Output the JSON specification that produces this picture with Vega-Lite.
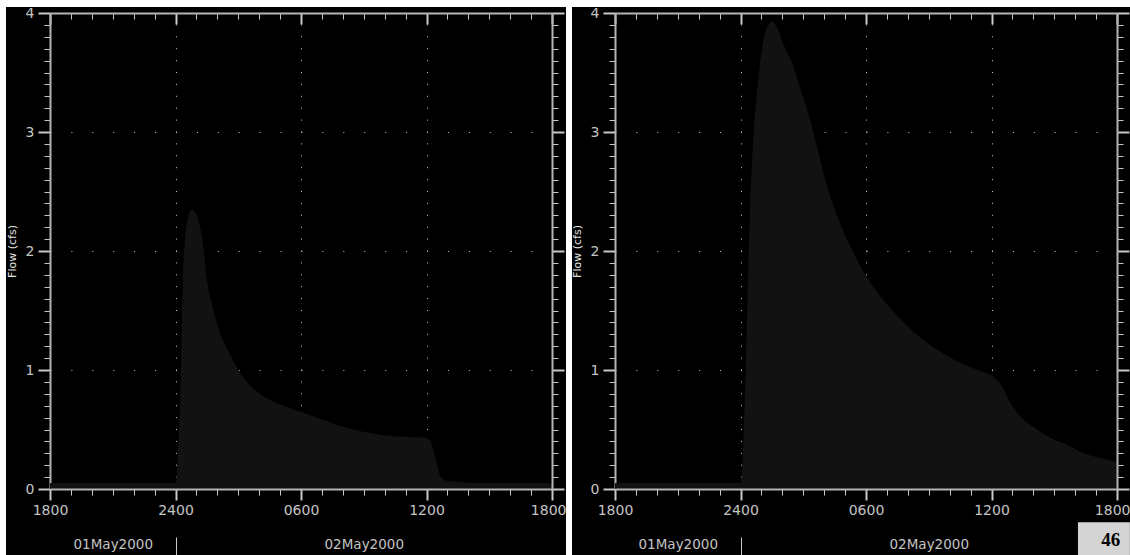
{
 "$schema": "https://vega.github.io/schema/vega-lite/v6.json",
 "background": "white",
 "padding": {"left": 6, "top": 6, "right": 0, "bottom": 0},
 "config": {
  "view": {"stroke": null, "fill": "black"},
  "font": "DejaVu Sans",
  "axis": {"domainColor": "#b4b4b4", "domainWidth": 2, "tickColor": "#c8c8c8", "labelColor": "#c4c4c4", "labelFont": "DejaVu Sans", "labelFontSize": 14, "labelFlush": false, "labelOverlap": false, "gridColor": "#c8c8c8", "gridWidth": 1, "titleColor": "#e0e0e0", "titleFont": "DejaVu Sans", "titleFontWeight": "normal", "titleFontSize": 11, "grid": false}
 },
 "datasets": {
  "left": [
   {"time": "2000-05-01T18:00", "flow": 0.05},
   {"time": "2000-05-01T21:00", "flow": 0.05},
   {"time": "2000-05-02T00:00", "flow": 0.05},
   {"time": "2000-05-02T00:03", "flow": 0.10},
   {"time": "2000-05-02T00:08", "flow": 0.39},
   {"time": "2000-05-02T00:13", "flow": 0.69},
   {"time": "2000-05-02T00:18", "flow": 1.34},
   {"time": "2000-05-02T00:22", "flow": 1.82},
   {"time": "2000-05-02T00:27", "flow": 2.09},
   {"time": "2000-05-02T00:32", "flow": 2.22},
   {"time": "2000-05-02T00:37", "flow": 2.30},
   {"time": "2000-05-02T00:43", "flow": 2.34},
   {"time": "2000-05-02T00:49", "flow": 2.345},
   {"time": "2000-05-02T00:55", "flow": 2.33},
   {"time": "2000-05-02T01:01", "flow": 2.30},
   {"time": "2000-05-02T01:07", "flow": 2.24},
   {"time": "2000-05-02T01:12", "flow": 2.18},
   {"time": "2000-05-02T01:20", "flow": 2.03},
   {"time": "2000-05-02T01:29", "flow": 1.78},
   {"time": "2000-05-02T01:44", "flow": 1.56},
   {"time": "2000-05-02T02:08", "flow": 1.31},
   {"time": "2000-05-02T02:36", "flow": 1.13},
   {"time": "2000-05-02T03:14", "flow": 0.94},
   {"time": "2000-05-02T03:53", "flow": 0.82},
   {"time": "2000-05-02T04:31", "flow": 0.75},
   {"time": "2000-05-02T05:19", "flow": 0.69},
   {"time": "2000-05-02T06:07", "flow": 0.64},
   {"time": "2000-05-02T06:54", "flow": 0.59},
   {"time": "2000-05-02T07:42", "flow": 0.54},
   {"time": "2000-05-02T08:30", "flow": 0.50},
   {"time": "2000-05-02T09:18", "flow": 0.47},
   {"time": "2000-05-02T10:06", "flow": 0.45},
   {"time": "2000-05-02T10:53", "flow": 0.44},
   {"time": "2000-05-02T11:56", "flow": 0.43},
   {"time": "2000-05-02T12:10", "flow": 0.41},
   {"time": "2000-05-02T12:19", "flow": 0.33},
   {"time": "2000-05-02T12:29", "flow": 0.22},
   {"time": "2000-05-02T12:38", "flow": 0.12},
   {"time": "2000-05-02T12:48", "flow": 0.08},
   {"time": "2000-05-02T12:58", "flow": 0.07},
   {"time": "2000-05-02T13:26", "flow": 0.06},
   {"time": "2000-05-02T14:05", "flow": 0.05},
   {"time": "2000-05-02T17:34", "flow": 0.05},
   {"time": "2000-05-02T18:00", "flow": 0.04}
  ],
  "right": [
   {"time": "2000-05-01T18:00", "flow": 0.05},
   {"time": "2000-05-01T21:00", "flow": 0.05},
   {"time": "2000-05-02T00:00", "flow": 0.05},
   {"time": "2000-05-02T00:04", "flow": 0.12},
   {"time": "2000-05-02T00:08", "flow": 0.39},
   {"time": "2000-05-02T00:13", "flow": 0.81},
   {"time": "2000-05-02T00:18", "flow": 1.36},
   {"time": "2000-05-02T00:23", "flow": 1.92},
   {"time": "2000-05-02T00:28", "flow": 2.40},
   {"time": "2000-05-02T00:37", "flow": 2.96},
   {"time": "2000-05-02T00:47", "flow": 3.33},
   {"time": "2000-05-02T00:56", "flow": 3.58},
   {"time": "2000-05-02T01:06", "flow": 3.77},
   {"time": "2000-05-02T01:20", "flow": 3.90},
   {"time": "2000-05-02T01:33", "flow": 3.93},
   {"time": "2000-05-02T01:44", "flow": 3.88},
   {"time": "2000-05-02T02:03", "flow": 3.74},
   {"time": "2000-05-02T02:28", "flow": 3.58},
   {"time": "2000-05-02T02:51", "flow": 3.37},
   {"time": "2000-05-02T03:20", "flow": 3.10},
   {"time": "2000-05-02T03:44", "flow": 2.82},
   {"time": "2000-05-02T04:17", "flow": 2.46},
   {"time": "2000-05-02T04:46", "flow": 2.23},
   {"time": "2000-05-02T05:15", "flow": 2.04},
   {"time": "2000-05-02T05:58", "flow": 1.80},
   {"time": "2000-05-02T06:41", "flow": 1.62},
   {"time": "2000-05-02T07:19", "flow": 1.49},
   {"time": "2000-05-02T08:17", "flow": 1.32},
   {"time": "2000-05-02T09:24", "flow": 1.17},
   {"time": "2000-05-02T10:31", "flow": 1.06},
   {"time": "2000-05-02T11:19", "flow": 1.00},
   {"time": "2000-05-02T12:07", "flow": 0.94},
   {"time": "2000-05-02T12:31", "flow": 0.86},
   {"time": "2000-05-02T12:55", "flow": 0.72},
   {"time": "2000-05-02T13:23", "flow": 0.61},
   {"time": "2000-05-02T14:01", "flow": 0.52},
   {"time": "2000-05-02T14:49", "flow": 0.43},
   {"time": "2000-05-02T15:37", "flow": 0.37},
   {"time": "2000-05-02T16:25", "flow": 0.30},
   {"time": "2000-05-02T17:13", "flow": 0.26},
   {"time": "2000-05-02T18:00", "flow": 0.23}
  ]
 },
 "spacing": 6,
 "bounds": "flush",
 "hconcat": [
  {
   "width": 560,
   "height": 548,
   "data": {"name": "left"},
   "resolve": {"axis": {"x": "independent", "y": "independent"}},
   "layer": [
    {
     "mark": {"type": "area", "color": "#121212", "interpolate": "monotone"},
     "encoding": {
      "x": {"field": "time", "type": "temporal",
       "scale": {"domain": [{"year":2000,"month":5,"date":1,"hours":18},{"year":2000,"month":5,"date":2,"hours":18}], "range": [44, 546], "nice": false},
       "axis": {"orient": "top", "offset": -6, "labels": false, "title": null, "labelFlush": false,
        "values": [{"year":2000,"month":5,"date":1,"hours":18},{"year":2000,"month":5,"date":1,"hours":19},{"year":2000,"month":5,"date":1,"hours":20},{"year":2000,"month":5,"date":1,"hours":21},{"year":2000,"month":5,"date":1,"hours":22},{"year":2000,"month":5,"date":1,"hours":23},{"year":2000,"month":5,"date":2,"hours":0},{"year":2000,"month":5,"date":2,"hours":1},{"year":2000,"month":5,"date":2,"hours":2},{"year":2000,"month":5,"date":2,"hours":3},{"year":2000,"month":5,"date":2,"hours":4},{"year":2000,"month":5,"date":2,"hours":5},{"year":2000,"month":5,"date":2,"hours":6},{"year":2000,"month":5,"date":2,"hours":7},{"year":2000,"month":5,"date":2,"hours":8},{"year":2000,"month":5,"date":2,"hours":9},{"year":2000,"month":5,"date":2,"hours":10},{"year":2000,"month":5,"date":2,"hours":11},{"year":2000,"month":5,"date":2,"hours":12},{"year":2000,"month":5,"date":2,"hours":13},{"year":2000,"month":5,"date":2,"hours":14},{"year":2000,"month":5,"date":2,"hours":15},{"year":2000,"month":5,"date":2,"hours":16},{"year":2000,"month":5,"date":2,"hours":17},{"year":2000,"month":5,"date":2,"hours":18}],
        "tickSize": {"condition": {"test": "hours(datum.value) % 6 == 0", "value": -11}, "value": -6},
        "tickWidth": {"condition": {"test": "hours(datum.value) % 6 == 0", "value": 2}, "value": 1},
        "grid": true, "gridDash": [1, 10.9],
        "gridOpacity": {"condition": {"test": "hours(datum.value) % 6 == 0", "value": 1}, "value": 0}}},
      "y": {"field": "flow", "type": "quantitative",
       "scale": {"domain": [0, 4], "range": [482, 6], "nice": false, "zero": false},
       "axis": {"orient": "left", "offset": -44, "title": "Flow (cfs)", "titlePadding": 8,
        "values": [0,0.1,0.2,0.3,0.4,0.5,0.6,0.7,0.8,0.9,1,1.1,1.2,1.3,1.4,1.5,1.6,1.7,1.8,1.9,2,2.1,2.2,2.3,2.4,2.5,2.6,2.7,2.8,2.9,3,3.1,3.2,3.3,3.4,3.5,3.6,3.7,3.8,3.9,4],
        "labelExpr": "abs(datum.value - round(datum.value)) < 0.001 ? format(datum.value, 'd') : ''",
        "labelPadding": 4,
        "tickSize": {"condition": {"test": "abs(datum.value - round(datum.value)) < 0.001", "value": 12}, "value": 6},
        "tickWidth": {"condition": {"test": "abs(datum.value - round(datum.value)) < 0.001", "value": 2}, "value": 1},
        "grid": true, "gridDash": [1, 19.917],
        "gridOpacity": {"condition": {"test": "abs(datum.value - round(datum.value)) < 0.001", "value": 1}, "value": 0}}}
     }
    },
    {
     "mark": {"type": "line", "opacity": 0},
     "encoding": {
      "x": {"field": "time", "type": "temporal",
       "axis": {"orient": "bottom", "offset": -66, "zindex": 1, "title": null, "labelFlush": false, "labelOverlap": false,
        "values": [{"year":2000,"month":5,"date":1,"hours":18},{"year":2000,"month":5,"date":1,"hours":19},{"year":2000,"month":5,"date":1,"hours":20},{"year":2000,"month":5,"date":1,"hours":21},{"year":2000,"month":5,"date":1,"hours":22},{"year":2000,"month":5,"date":1,"hours":23},{"year":2000,"month":5,"date":2,"hours":0},{"year":2000,"month":5,"date":2,"hours":1},{"year":2000,"month":5,"date":2,"hours":2},{"year":2000,"month":5,"date":2,"hours":3},{"year":2000,"month":5,"date":2,"hours":4},{"year":2000,"month":5,"date":2,"hours":5},{"year":2000,"month":5,"date":2,"hours":6},{"year":2000,"month":5,"date":2,"hours":7},{"year":2000,"month":5,"date":2,"hours":8},{"year":2000,"month":5,"date":2,"hours":9},{"year":2000,"month":5,"date":2,"hours":10},{"year":2000,"month":5,"date":2,"hours":11},{"year":2000,"month":5,"date":2,"hours":12},{"year":2000,"month":5,"date":2,"hours":13},{"year":2000,"month":5,"date":2,"hours":14},{"year":2000,"month":5,"date":2,"hours":15},{"year":2000,"month":5,"date":2,"hours":16},{"year":2000,"month":5,"date":2,"hours":17},{"year":2000,"month":5,"date":2,"hours":18}],
        "labelExpr": "hours(datum.value) % 6 != 0 ? '' : (hours(datum.value) == 0 ? '2400' : timeFormat(datum.value, '%H%M'))",
        "labelPadding": 3,
        "labelAlign": {"condition": {"test": "+datum.value > +datetime(2000, 4, 2, 17)", "value": "right"}, "value": "center"},
        "labelOffset": {"condition": {"test": "+datum.value > +datetime(2000, 4, 2, 17)", "value": 14}, "value": 0},
        "tickSize": {"condition": {"test": "hours(datum.value) % 6 == 0", "value": 11}, "value": 6},
        "tickWidth": {"condition": {"test": "hours(datum.value) % 6 == 0", "value": 2}, "value": 1}}},
      "y": {"field": "flow", "type": "quantitative",
       "axis": {"orient": "right", "offset": -14, "zindex": 1, "labels": false, "title": null,
        "values": [0,0.1,0.2,0.3,0.4,0.5,0.6,0.7,0.8,0.9,1,1.1,1.2,1.3,1.4,1.5,1.6,1.7,1.8,1.9,2,2.1,2.2,2.3,2.4,2.5,2.6,2.7,2.8,2.9,3,3.1,3.2,3.3,3.4,3.5,3.6,3.7,3.8,3.9,4],
        "tickSize": {"condition": {"test": "abs(datum.value - round(datum.value)) < 0.001", "value": 12}, "value": 6},
        "tickWidth": {"condition": {"test": "abs(datum.value - round(datum.value)) < 0.001", "value": 2}, "value": 1}}}
     }
    },
    {
     "mark": {"type": "line", "opacity": 0},
     "encoding": {
      "x": {"field": "time", "type": "temporal",
       "axis": {"orient": "bottom", "offset": -18, "zindex": 1, "title": null, "domain": false, "labelFlush": false, "labelOverlap": false,
        "values": [{"year":2000,"month":5,"date":1,"hours":21},{"year":2000,"month":5,"date":2,"hours":0},{"year":2000,"month":5,"date":2,"hours":9}],
        "tickSize": 18, "tickWidth": 1,
        "tickOpacity": {"condition": {"test": "hours(datum.value) == 0", "value": 1}, "value": 0},
        "labelExpr": "hours(datum.value) == 0 ? '' : timeFormat(datum.value, '%d%b%Y')",
        "labelBaseline": "middle", "labelPadding": -11, "labelFontSize": 13.5}},
      "y": {"field": "flow", "type": "quantitative", "axis": null}
     }
    }
   ]
  },
  {
   "width": 558,
   "height": 548,
   "data": {"name": "right"},
   "resolve": {"axis": {"x": "independent", "y": "independent"}},
   "layer": [
    {
     "mark": {"type": "area", "color": "#121212", "interpolate": "monotone"},
     "encoding": {
      "x": {"field": "time", "type": "temporal",
       "scale": {"domain": [{"year":2000,"month":5,"date":1,"hours":18},{"year":2000,"month":5,"date":2,"hours":18}], "range": [43, 545], "nice": false},
       "axis": {"orient": "top", "offset": -6, "labels": false, "title": null, "labelFlush": false,
        "values": [{"year":2000,"month":5,"date":1,"hours":18},{"year":2000,"month":5,"date":1,"hours":19},{"year":2000,"month":5,"date":1,"hours":20},{"year":2000,"month":5,"date":1,"hours":21},{"year":2000,"month":5,"date":1,"hours":22},{"year":2000,"month":5,"date":1,"hours":23},{"year":2000,"month":5,"date":2,"hours":0},{"year":2000,"month":5,"date":2,"hours":1},{"year":2000,"month":5,"date":2,"hours":2},{"year":2000,"month":5,"date":2,"hours":3},{"year":2000,"month":5,"date":2,"hours":4},{"year":2000,"month":5,"date":2,"hours":5},{"year":2000,"month":5,"date":2,"hours":6},{"year":2000,"month":5,"date":2,"hours":7},{"year":2000,"month":5,"date":2,"hours":8},{"year":2000,"month":5,"date":2,"hours":9},{"year":2000,"month":5,"date":2,"hours":10},{"year":2000,"month":5,"date":2,"hours":11},{"year":2000,"month":5,"date":2,"hours":12},{"year":2000,"month":5,"date":2,"hours":13},{"year":2000,"month":5,"date":2,"hours":14},{"year":2000,"month":5,"date":2,"hours":15},{"year":2000,"month":5,"date":2,"hours":16},{"year":2000,"month":5,"date":2,"hours":17},{"year":2000,"month":5,"date":2,"hours":18}],
        "tickSize": {"condition": {"test": "hours(datum.value) % 6 == 0", "value": -11}, "value": -6},
        "tickWidth": {"condition": {"test": "hours(datum.value) % 6 == 0", "value": 2}, "value": 1},
        "grid": true, "gridDash": [1, 10.9],
        "gridOpacity": {"condition": {"test": "hours(datum.value) % 6 == 0", "value": 1}, "value": 0}}},
      "y": {"field": "flow", "type": "quantitative",
       "scale": {"domain": [0, 4], "range": [482, 6], "nice": false, "zero": false},
       "axis": {"orient": "left", "offset": -43, "title": "Flow (cfs)", "titlePadding": 8,
        "values": [0,0.1,0.2,0.3,0.4,0.5,0.6,0.7,0.8,0.9,1,1.1,1.2,1.3,1.4,1.5,1.6,1.7,1.8,1.9,2,2.1,2.2,2.3,2.4,2.5,2.6,2.7,2.8,2.9,3,3.1,3.2,3.3,3.4,3.5,3.6,3.7,3.8,3.9,4],
        "labelExpr": "abs(datum.value - round(datum.value)) < 0.001 ? format(datum.value, 'd') : ''",
        "labelPadding": 4,
        "tickSize": {"condition": {"test": "abs(datum.value - round(datum.value)) < 0.001", "value": 12}, "value": 6},
        "tickWidth": {"condition": {"test": "abs(datum.value - round(datum.value)) < 0.001", "value": 2}, "value": 1},
        "grid": true, "gridDash": [1, 19.917],
        "gridOpacity": {"condition": {"test": "abs(datum.value - round(datum.value)) < 0.001", "value": 1}, "value": 0}}}
     }
    },
    {
     "mark": {"type": "line", "opacity": 0},
     "encoding": {
      "x": {"field": "time", "type": "temporal",
       "axis": {"orient": "bottom", "offset": -66, "zindex": 1, "title": null, "labelFlush": false, "labelOverlap": false,
        "values": [{"year":2000,"month":5,"date":1,"hours":18},{"year":2000,"month":5,"date":1,"hours":19},{"year":2000,"month":5,"date":1,"hours":20},{"year":2000,"month":5,"date":1,"hours":21},{"year":2000,"month":5,"date":1,"hours":22},{"year":2000,"month":5,"date":1,"hours":23},{"year":2000,"month":5,"date":2,"hours":0},{"year":2000,"month":5,"date":2,"hours":1},{"year":2000,"month":5,"date":2,"hours":2},{"year":2000,"month":5,"date":2,"hours":3},{"year":2000,"month":5,"date":2,"hours":4},{"year":2000,"month":5,"date":2,"hours":5},{"year":2000,"month":5,"date":2,"hours":6},{"year":2000,"month":5,"date":2,"hours":7},{"year":2000,"month":5,"date":2,"hours":8},{"year":2000,"month":5,"date":2,"hours":9},{"year":2000,"month":5,"date":2,"hours":10},{"year":2000,"month":5,"date":2,"hours":11},{"year":2000,"month":5,"date":2,"hours":12},{"year":2000,"month":5,"date":2,"hours":13},{"year":2000,"month":5,"date":2,"hours":14},{"year":2000,"month":5,"date":2,"hours":15},{"year":2000,"month":5,"date":2,"hours":16},{"year":2000,"month":5,"date":2,"hours":17},{"year":2000,"month":5,"date":2,"hours":18}],
        "labelExpr": "hours(datum.value) % 6 != 0 ? '' : (hours(datum.value) == 0 ? '2400' : timeFormat(datum.value, '%H%M'))",
        "labelPadding": 3,
        "labelAlign": {"condition": {"test": "+datum.value > +datetime(2000, 4, 2, 17)", "value": "right"}, "value": "center"},
        "labelOffset": {"condition": {"test": "+datum.value > +datetime(2000, 4, 2, 17)", "value": 13}, "value": 0},
        "tickSize": {"condition": {"test": "hours(datum.value) % 6 == 0", "value": 11}, "value": 6},
        "tickWidth": {"condition": {"test": "hours(datum.value) % 6 == 0", "value": 2}, "value": 1}}},
      "y": {"field": "flow", "type": "quantitative",
       "axis": {"orient": "right", "offset": -13, "zindex": 1, "labels": false, "title": null,
        "values": [0,0.1,0.2,0.3,0.4,0.5,0.6,0.7,0.8,0.9,1,1.1,1.2,1.3,1.4,1.5,1.6,1.7,1.8,1.9,2,2.1,2.2,2.3,2.4,2.5,2.6,2.7,2.8,2.9,3,3.1,3.2,3.3,3.4,3.5,3.6,3.7,3.8,3.9,4],
        "tickSize": {"condition": {"test": "abs(datum.value - round(datum.value)) < 0.001", "value": 12}, "value": 6},
        "tickWidth": {"condition": {"test": "abs(datum.value - round(datum.value)) < 0.001", "value": 2}, "value": 1}}}
     }
    },
    {
     "mark": {"type": "line", "opacity": 0},
     "encoding": {
      "x": {"field": "time", "type": "temporal",
       "axis": {"orient": "bottom", "offset": -18, "zindex": 1, "title": null, "domain": false, "labelFlush": false, "labelOverlap": false,
        "values": [{"year":2000,"month":5,"date":1,"hours":21},{"year":2000,"month":5,"date":2,"hours":0},{"year":2000,"month":5,"date":2,"hours":9}],
        "tickSize": 18, "tickWidth": 1,
        "tickOpacity": {"condition": {"test": "hours(datum.value) == 0", "value": 1}, "value": 0},
        "labelExpr": "hours(datum.value) == 0 ? '' : timeFormat(datum.value, '%d%b%Y')",
        "labelBaseline": "middle", "labelPadding": -11, "labelFontSize": 13.5}},
      "y": {"field": "flow", "type": "quantitative", "axis": null}
     }
    },
    {
     "data": {"values": [{"page": "46"}]},
     "mark": {"type": "rect", "color": "#d4d4d4"},
     "encoding": {
      "x": {"datum": {"year":2000,"month":5,"date":2,"hours":16,"minutes":8}, "type": "temporal", "axis": null},
      "x2": {"datum": {"year":2000,"month":5,"date":2,"hours":18,"minutes":37}},
      "y": {"datum": -0.28, "type": "quantitative", "axis": null},
      "y2": {"datum": -0.554}
     }
    },
    {
     "data": {"values": [{"page": "46"}]},
     "mark": {"type": "text", "font": "Liberation Serif", "fontWeight": "bold", "fontSize": 19, "color": "black", "baseline": "middle", "align": "center"},
     "encoding": {
      "x": {"datum": {"year":2000,"month":5,"date":2,"hours":17,"minutes":42}, "type": "temporal", "axis": null},
      "y": {"datum": -0.43, "type": "quantitative", "axis": null},
      "text": {"field": "page"}
     }
    }
   ]
  }
 ]
}
